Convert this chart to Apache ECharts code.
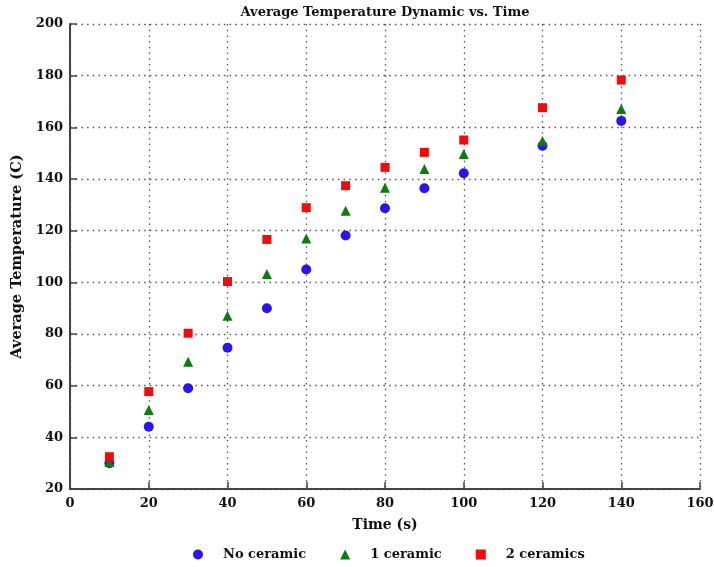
<!DOCTYPE html>
<html>
<head>
<meta charset="utf-8">
<script src="https://cdn.jsdelivr.net/npm/echarts@6/dist/echarts.min.js"></script>
<style>html,body{margin:0;padding:0;background:#fff;}#c{width:714px;height:567px;}</style>
</head>
<body>
<div id="c"></div>
<script>
const times = [10, 20, 30, 40, 50, 60, 70, 80, 90, 100, 120, 140];
const noCeramic = [30.0, 44.1, 59.0, 74.7, 90.0, 105.0, 118.1, 128.7, 136.4, 142.2, 152.9, 162.5];
const oneCeramic = [30.5, 50.6, 69.3, 87.1, 103.2, 117.0, 127.7, 136.6, 143.9, 149.7, 154.7, 167.1];
const twoCeramics = [32.5, 57.7, 80.3, 100.3, 116.6, 128.9, 137.4, 144.5, 150.3, 155.1, 167.6, 178.3];
const seriesNames = ['No ceramic', '1 ceramic', '2 ceramics'];

const font = 'DejaVu Serif';
const pair = (vals) => times.map((t, i) => [t, vals[i]]);

const chart = echarts.init(document.getElementById('c'), null, {renderer: 'canvas'});
const gridLine = {show: true, lineStyle: {type: [1.5, 4.2], color: '#555', width: 1.3}};
chart.setOption({
  animation: false,
  backgroundColor: '#fff',
  title: {
    text: 'Average Temperature Dynamic vs. Time',
    left: 380, top: 1, textAlign: 'center',
    textStyle: {fontFamily: font, fontWeight: 'bold', fontSize: 13, color: '#111'}
  },
  grid: {left: 70, right: 14, top: 24, bottom: 78, outerBoundsMode: 'none', containLabel: false},
  legend: {
    left: 188, top: 543,
    itemWidth: 10, itemHeight: 10, itemGap: 34,
    textStyle: {fontFamily: font, fontWeight: 'bold', fontSize: 13, color: '#111', padding: [0, 0, 0, 15]},
    data: [
      {name: seriesNames[0], icon: 'circle'},
      {name: seriesNames[1], icon: 'triangle'},
      {name: seriesNames[2], icon: 'rect'}
    ]
  },
  xAxis: {
    type: 'value', min: 0, max: 160, interval: 20,
    name: 'Time (s)', nameLocation: 'middle', nameGap: 29,
    nameTextStyle: {fontFamily: font, fontWeight: 'bold', fontSize: 14, color: '#111'},
    axisLine: {show: true, onZero: false, lineStyle: {color: '#444', width: 2}},
    axisTick: {show: true, inside: true, length: 7, lineStyle: {color: '#444', width: 1.5}},
    axisLabel: {fontFamily: font, fontWeight: 'bold', fontSize: 13, color: '#111', margin: 8},
    splitLine: gridLine
  },
  yAxis: {
    type: 'value', min: 20, max: 200, interval: 20,
    name: 'Average Temperature (C)', nameLocation: 'middle', nameGap: 41,
    nameTextStyle: {fontFamily: font, fontWeight: 'bold', fontSize: 14.5, color: '#111'},
    axisLine: {show: true, onZero: false, lineStyle: {color: '#444', width: 2}},
    axisTick: {show: true, inside: true, length: 7, lineStyle: {color: '#444', width: 1.5}},
    axisLabel: {fontFamily: font, fontWeight: 'bold', fontSize: 13, color: '#111', margin: 7},
    splitLine: gridLine
  },
  series: [
    {name: seriesNames[0], type: 'scatter', symbol: 'circle', symbolSize: 10,
     itemStyle: {color: '#2a14f2', opacity: 1}, data: pair(noCeramic)},
    {name: seriesNames[1], type: 'scatter', symbol: 'triangle', symbolSize: 10,
     itemStyle: {color: '#0a7d0a', opacity: 1}, data: pair(oneCeramic)},
    {name: seriesNames[2], type: 'scatter', symbol: 'rect', symbolSize: 9,
     itemStyle: {color: '#f50a0a', opacity: 1}, data: pair(twoCeramics)}
  ]
});
</script>
</body>
</html>
